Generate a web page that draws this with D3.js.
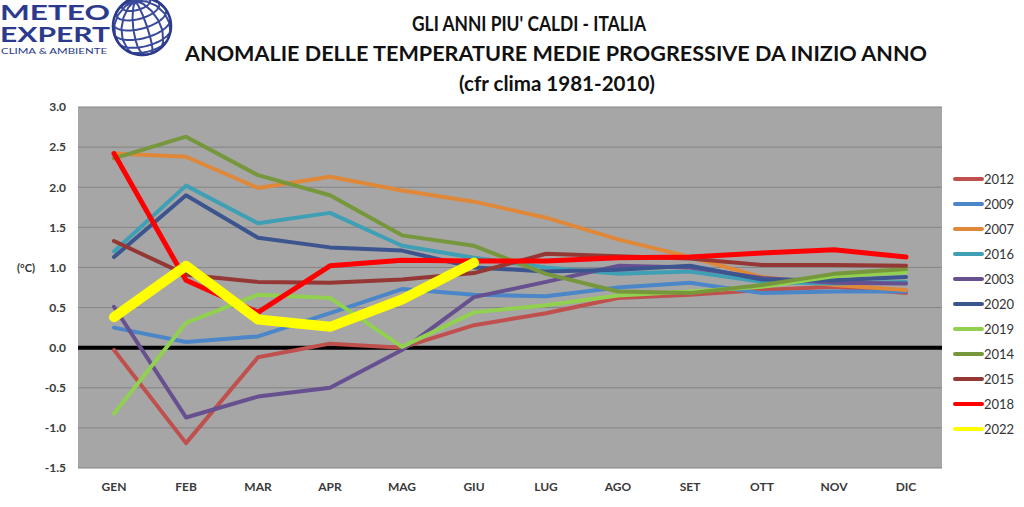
<!DOCTYPE html>
<html>
<head>
<meta charset="utf-8">
<script src="https://cdn.jsdelivr.net/npm/d3@7"></script>
<style>
  body { margin: 0; background: #fff; }
  svg { display: block; }
  text { font-family: Lato, "Open Sans", sans-serif; }
</style>
</head>
<body>
<svg id="chart" width="1024" height="507"></svg>
<script>
const months = ['GEN', 'FEB', 'MAR', 'APR', 'MAG', 'GIU', 'LUG', 'AGO', 'SET', 'OTT', 'NOV', 'DIC'];
const years = ['2012', '2009', '2007', '2016', '2003', '2020', '2019', '2014', '2015', '2018', '2022'];
const yTicks = [-1.5, -1.0, -0.5, 0.0, 0.5, 1.0, 1.5, 2.0, 2.5, 3.0];

// anomalie
const v2012 = [-0.03, -1.19, -0.12, 0.05, 0.0, 0.28, 0.43, 0.62, 0.66, 0.72, 0.76, 0.68];
const v2009 = [0.25, 0.07, 0.14, 0.43, 0.73, 0.66, 0.64, 0.75, 0.81, 0.68, 0.70, 0.70];
const v2007 = [2.42, 2.38, 1.99, 2.13, 1.96, 1.82, 1.62, 1.35, 1.13, 0.88, 0.78, 0.72];
const v2016 = [1.2, 2.02, 1.55, 1.68, 1.27, 1.12, 1.0, 0.92, 0.95, 0.82, 0.80, 0.82];
const v2003 = [0.51, -0.87, -0.61, -0.5, -0.03, 0.63, 0.82, 1.02, 1.0, 0.87, 0.81, 0.80];
const v2020 = [1.13, 1.9, 1.37, 1.25, 1.21, 1.0, 0.95, 0.97, 1.02, 0.85, 0.84, 0.88];
const v2019 = [-0.82, 0.31, 0.66, 0.62, 0.01, 0.44, 0.53, 0.65, 0.70, 0.76, 0.89, 0.94];
const v2014 = [2.36, 2.63, 2.15, 1.9, 1.4, 1.27, 0.92, 0.70, 0.68, 0.78, 0.92, 0.98];
const v2015 = [1.33, 0.91, 0.82, 0.81, 0.85, 0.93, 1.17, 1.14, 1.11, 1.03, 1.03, 1.02];
const v2018 = [2.42, 0.84, 0.44, 1.02, 1.09, 1.08, 1.08, 1.12, 1.13, 1.18, 1.22, 1.13];
const v2022 = [0.38, 1.02, 0.35, 0.26, 0.6, 1.06];

const seriesValues = [v2012, v2009, v2007, v2016, v2003, v2020, v2019, v2014, v2015, v2018, v2022];
const colors = ['#c0504d', '#4a86c8', '#e0883a', '#3f9fb5', '#67508f', '#3c558f',
                '#92d050', '#77973d', '#953735', '#ff0000', '#ffff00'];
const widths = [4, 4, 4, 4, 4, 4, 4, 4, 4, 5, 10];

const svg = d3.select('#chart');
const plotLeft = 78, plotRight = 942, plotTop = 107, plotBottom = 468;

const x = d3.scaleBand().domain(months).range([plotLeft, plotRight]).padding(0);
const xc = (m) => x(m) + x.bandwidth() / 2;
const y = d3.scaleLinear().domain([-1.5, 3]).range([plotBottom, plotTop]);

// sfondo area del grafico
svg.append('rect')
    .attr('x', plotLeft).attr('y', plotTop)
    .attr('width', plotRight - plotLeft).attr('height', plotBottom - plotTop)
    .attr('fill', '#a6a6a6');

// griglia
svg.append('g')
    .selectAll('line')
    .data(yTicks.filter(t => t !== 0))
    .join('line')
    .attr('x1', plotLeft).attr('x2', plotRight)
    .attr('y1', d => y(d)).attr('y2', d => y(d))
    .attr('stroke', '#858585').attr('stroke-width', 1);

// asse y
const yAxis = d3.axisLeft(y)
    .tickValues(yTicks)
    .tickFormat(d => d3.format('.1f')(d).replace('−', '-'))
    .tickSize(0)
    .tickPadding(12);
const gy = svg.append('g').attr('transform', 'translate(' + plotLeft + ',0)').call(yAxis);
gy.select('.domain').remove();
gy.selectAll('text')
    .attr('font-size', 12).attr('font-weight', 'bold').attr('fill', '#3a3a3a');

// asse x
const xAxis = d3.axisBottom(x).tickSize(0).tickPadding(14);
const gx = svg.append('g').attr('transform', 'translate(0,' + plotBottom + ')').call(xAxis);
gx.select('.domain').remove();
gx.selectAll('text')
    .attr('font-size', 12).attr('font-weight', 'bold').attr('fill', '#3a3a3a');

// linea dello zero
svg.append('line')
    .attr('x1', plotLeft).attr('x2', plotRight)
    .attr('y1', y(0)).attr('y2', y(0))
    .attr('stroke', '#000').attr('stroke-width', 4);

// serie
const line = d3.line()
    .x((d, i) => xc(months[i]))
    .y(d => y(d));
svg.append('g')
    .selectAll('path')
    .data(seriesValues)
    .join('path')
    .attr('d', d => line(d))
    .attr('fill', 'none')
    .attr('stroke', (d, i) => colors[i])
    .attr('stroke-width', (d, i) => widths[i])
    .attr('stroke-linejoin', 'round')
    .attr('stroke-linecap', 'round');

// legenda
const leg = svg.append('g')
    .selectAll('g')
    .data(years)
    .join('g')
    .attr('transform', (d, i) => 'translate(955,' + (179 + i * 25) + ')');
leg.append('line')
    .attr('x1', 0).attr('x2', 27)
    .attr('stroke', (d, i) => colors[i])
    .attr('stroke-width', 4)
    .attr('stroke-linecap', 'round');
leg.append('text')
    .attr('x', 29).attr('dy', '0.35em')
    .attr('font-size', 13).attr('fill', '#333')
    .text(d => d);

// unità
svg.append('text')
    .attr('x', 26).attr('y', 272)
    .attr('text-anchor', 'middle')
    .attr('font-size', 11).attr('font-weight', 'bold').attr('fill', '#333')
    .text('(°C)');

// titoli
const titles = [
    { t: "GLI ANNI PIU' CALDI - ITALIA", x: 529, y: 31, w: 234 },
    { t: 'ANOMALIE DELLE TEMPERATURE MEDIE PROGRESSIVE DA INIZIO ANNO', x: 556, y: 61, w: 742 },
    { t: '(cfr clima 1981-2010)', x: 557, y: 91, w: 196 }
];
svg.append('g')
    .selectAll('text')
    .data(titles)
    .join('text')
    .attr('x', d => d.x).attr('y', d => d.y)
    .attr('text-anchor', 'middle')
    .attr('font-size', 20).attr('font-weight', 'bold').attr('fill', '#111')
    .attr('textLength', d => d.w).attr('lengthAdjust', 'spacingAndGlyphs')
    .text(d => d.t);

// logo
const logo = svg.append('g');
logo.append('text')
    .attr('x', 0).attr('y', 20)
    .attr('font-family', 'Liberation Sans, Arial, sans-serif')
    .attr('font-size', 20).attr('font-weight', 'bold').attr('fill', '#2b3a8c')
    .attr('textLength', 110).attr('lengthAdjust', 'spacingAndGlyphs')
    .text('METEO');
logo.append('text')
    .attr('x', 0).attr('y', 42)
    .attr('font-family', 'Liberation Sans, Arial, sans-serif')
    .attr('font-size', 20).attr('font-weight', 'bold').attr('fill', '#2b3a8c')
    .attr('textLength', 110).attr('lengthAdjust', 'spacingAndGlyphs')
    .text('EXPERT');
logo.append('text')
    .attr('x', 1).attr('y', 54)
    .attr('font-family', 'Liberation Sans, Arial, sans-serif')
    .attr('font-size', 8).attr('fill', '#2b3a8c')
    .attr('textLength', 106).attr('lengthAdjust', 'spacingAndGlyphs')
    .text('CLIMA & AMBIENTE');
const proj = d3.geoOrthographic().scale(29).translate([142, 26]).rotate([-20, -25, 15]);
const geo = d3.geoPath(proj);
logo.append('path')
    .datum(d3.geoGraticule().step([30, 20])())
    .attr('d', geo)
    .attr('fill', 'none').attr('stroke', '#3a4a9a').attr('stroke-width', 2);
logo.append('path')
    .datum({ type: 'Sphere' })
    .attr('d', geo)
    .attr('fill', 'none').attr('stroke', '#2b3a8c').attr('stroke-width', 2.5);
</script>
</body>
</html>
